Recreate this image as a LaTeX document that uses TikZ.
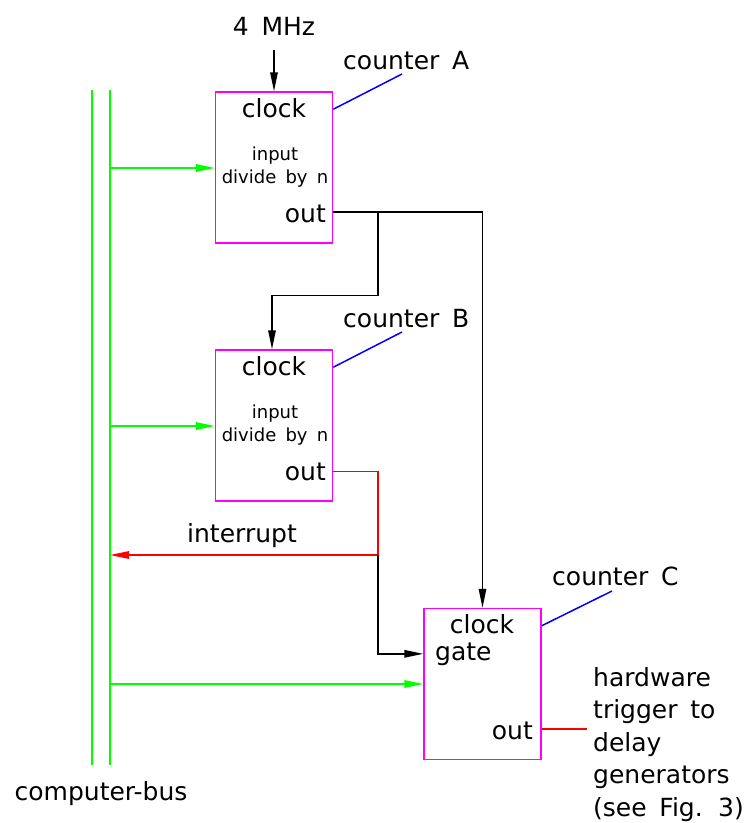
\documentclass[tikz,border=0pt]{standalone}
\usepackage{fontspec}
\setmainfont{DejaVu Sans}[WordSpace=1.6]
\usetikzlibrary{arrows.meta,positioning,calc}
\definecolor{boxpink}{HTML}{FF00FF}
\definecolor{busgreen}{HTML}{00FF00}
\definecolor{leadblue}{HTML}{0000FF}
\definecolor{sigred}{HTML}{FF0000}

\begin{document}
\begin{tikzpicture}[x=1pt, y=-1pt,
  counter/.style={draw=boxpink, line width=1.5pt, minimum width=117pt,
                  minimum height=151pt, inner sep=0pt},
  lbl/.style={font=\fontsize{25}{32.5}\selectfont, inner sep=0pt},
  small/.style={font=\fontsize{18}{23}\selectfont, inner sep=0pt, align=center},
  bus/.style={busgreen, line width=1.5pt},
  buslink/.style={busgreen, line width=1.5pt, -{Triangle[length=19pt,width=7.5pt]}},
  wire/.style={black, line width=1.5pt},
  wirearrow/.style={wire, -{Triangle[length=19pt,width=7.5pt]}},
  redwire/.style={sigred, line width=1.5pt},
  redarrow/.style={redwire, -{Triangle[length=19pt,width=7.5pt]}},
  lead/.style={leadblue, line width=1.5pt}
]
  \useasboundingbox (0,0) rectangle (753,823);

  \coordinate (busLtop) at (92,90);   \coordinate (busLbot) at (92,765);
  \coordinate (busRtop) at (110,90);  \coordinate (busRbot) at (110,765);
  \draw[bus] (busLtop) -- (busLbot);
  \draw[bus] (busRtop) -- (busRbot);
  \node[lbl, anchor=base] (busname) at (101,800) {computer-bus};

  \node[counter] (cntA) at (274,167.5) {};
  \node[lbl, anchor=base] (clkA) at (274,117) {clock};
  \node[small, anchor=base] (inA) at (275,183) {input\\divide by n};
  \node[lbl, anchor=base east] (outA) at (326,222) {out};
  \node[lbl, anchor=base] (mhz) at (274,35) {4 MHz};
  \node[lbl, anchor=base west] (nameA) at (343,69) {counter A};

  \node[counter] (cntB) at (274,425.5) {};
  \node[lbl, anchor=base] (clkB) at (274,375) {clock};
  \node[small, anchor=base] (inB) at (275,441) {input\\divide by n};
  \node[lbl, anchor=base east] (outB) at (326,480) {out};
  \node[lbl, anchor=base west] (nameB) at (343,327) {counter B};

  \node[counter] (cntC) at (482.5,684) {};
  \node[lbl, anchor=base] (clkC) at (482,633) {clock};
  \node[lbl, anchor=base west] (gateC) at (435,660) {gate};
  \node[lbl, anchor=base east] (outC) at (533,739) {out};
  \node[lbl, anchor=base west] (nameC) at (552,585) {counter C};
  \node[lbl, anchor=base west, align=left] (hw) at (593,816)
    {hardware\\trigger to\\delay\\generators\\(see Fig. 3)};

  \node[lbl, anchor=base] (irq) at (242,542) {interrupt};

  \coordinate (clkin) at (274,50);
  \coordinate (tapA) at (110,168);
  \coordinate (tapB) at (110,426);
  \coordinate (tapC) at (110,684);
  \coordinate (jA) at (378,212);
  \coordinate (jI) at (378,555);
  \coordinate (trig) at (587,729);
  \coordinate (leadA) at (402,74);
  \coordinate (leadB) at (402,332);
  \coordinate (leadC) at (612,591);

  \draw[wirearrow] (clkin) -- (cntA.north);
  \draw[buslink] (tapA) -- (tapA -| cntA.west);
  \draw[buslink] (tapB) -- (tapB -| cntB.west);
  \draw[buslink] (tapC) -- (tapC -| cntC.west);

  \draw[wirearrow] (cntA.east |- jA) -| (cntC.north);
  \draw[wirearrow] (jA) |- ($(cntB.north)+(-2,-54)$) -- ($(cntB.north)+(-2,0)$);

  \draw[redwire] (cntB.east |- outB) -| (jI);
  \draw[redarrow] (jI) -- (jI -| busRtop);
  \draw[wirearrow] (jI) |- (cntC.west |- gateC);
  \draw[redwire] (cntC.east |- trig) -- (trig);

  \draw[lead] ($(cntA.north east)+(0,18)$) -- (leadA);
  \draw[lead] ($(cntB.north east)+(0,18)$) -- (leadB);
  \draw[lead] ($(cntC.north east)+(0,18)$) -- (leadC);
\end{tikzpicture}
\end{document}
